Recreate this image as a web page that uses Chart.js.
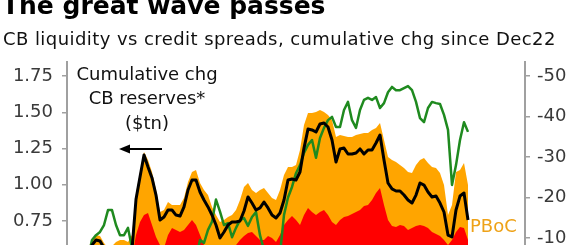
<!DOCTYPE html>
<html>
<head>
<meta charset="utf-8">
<script src="https://cdn.jsdelivr.net/npm/chart.js@4.4.1/dist/chart.umd.min.js"></script>
<style>
  html, body { margin: 0; padding: 0; background: #fff; overflow: hidden; }
  #wrap { position: relative; width: 576px; height: 245px; overflow: hidden; font-family: "DejaVu Sans", Verdana, sans-serif; }
  #wrap canvas { position: absolute; left: 0; top: 0; }
  .txt { position: absolute; white-space: nowrap; }
  #title { left: 2px; top: -7px; font-size: 25px; line-height: 25px; font-weight: bold; color: #000; }
  #subtitle { left: 3px; top: 30px; font-size: 18px; line-height: 18px; letter-spacing: 0.43px; color: #111; }
  #note { left: 47px; top: 61.5px; width: 200px; text-align: center; font-size: 18px; line-height: 24.5px; color: #111; }
  #pboc { left: 470px; top: 217px; font-size: 18px; line-height: 18px; color: #eea218; }
</style>
</head>
<body>
<div id="wrap">
  <canvas id="chart" width="576" height="245"></canvas>
  <div class="txt" id="title">The great wave passes</div>
  <div class="txt" id="subtitle">CB liquidity vs credit spreads, cumulative chg since Dec22</div>
  <div class="txt" id="note">Cumulative chg<br>CB reserves*<br>($tn)</div>
  <div class="txt" id="pboc">PBoC</div>
</div>
<script>
// cumulative chg in CB reserves ($tn), black line, left axis
const cbReserves = [
  0.45, 0.45, 0.45, 0.45, 0.47, 0.52, 0.584, 0.619, 0.612, 0.564,
  0.53, 0.50, 0.50, 0.50, 0.52, 0.54, 0.55, 0.90, 1.053, 1.205,
  1.122, 1.047, 0.929, 0.757, 0.778, 0.826, 0.826, 0.791, 0.784, 0.847,
  0.964, 1.033, 1.033, 0.95, 0.895, 0.847, 0.791, 0.722, 0.633, 0.674,
  0.722, 0.743, 0.743, 0.75, 0.819, 0.916, 0.874, 0.826, 0.84, 0.881,
  0.84, 0.791, 0.771, 0.805, 0.895, 1.033, 1.04, 1.033, 1.088, 1.253,
  1.384, 1.378, 1.364, 1.419, 1.426, 1.398, 1.309, 1.157, 1.247, 1.253,
  1.212, 1.212, 1.219, 1.247, 1.212, 1.24, 1.24, 1.288, 1.343, 1.171,
  1.012, 0.971, 0.957, 0.957, 0.929, 0.895, 0.874, 0.929, 1.012, 0.998,
  0.95, 0.916, 0.922, 0.874, 0.812, 0.653, 0.64, 0.826, 0.922, 0.943,
  0.757
];

// top of the stacked areas incl. PBoC (orange)
const stackTop = [
  0.47, 0.47, 0.48, 0.49, 0.52, 0.56, 0.619, 0.653, 0.647, 0.598,
  0.564, 0.577, 0.605, 0.619, 0.619, 0.605, 0.653, 0.94, 1.088, 1.226,
  1.171, 1.088, 0.964, 0.812, 0.826, 0.881, 0.86, 0.86, 0.86, 0.909,
  1.019, 1.088, 1.102, 1.012, 0.964, 0.929, 0.847, 0.791, 0.743, 0.757,
  0.778, 0.791, 0.826, 0.895, 0.984, 1.012, 0.964, 0.943, 0.964, 0.978,
  0.943, 0.909, 0.895, 0.964, 1.067, 1.122, 1.122, 1.136, 1.24, 1.412,
  1.495, 1.495, 1.502, 1.516, 1.502, 1.481, 1.447, 1.329, 1.343, 1.336,
  1.329, 1.329, 1.343, 1.35, 1.357, 1.357, 1.378, 1.391, 1.426, 1.309,
  1.191, 1.171, 1.157, 1.136, 1.116, 1.088, 1.081, 1.136, 1.171, 1.184,
  1.15, 1.122, 1.116, 1.081, 0.998, 0.791, 0.86, 1.088, 1.102, 1.15,
  0.998
];

// top of the red area (stack below PBoC)
const redTop = [
  0.4, 0.4, 0.4, 0.4, 0.4, 0.4, 0.4, 0.4, 0.4, 0.4,
  0.4, 0.4, 0.4, 0.4, 0.4, 0.4, 0.5, 0.653, 0.743, 0.791,
  0.805, 0.722, 0.64, 0.584, 0.564, 0.653, 0.702, 0.688, 0.674, 0.688,
  0.722, 0.757, 0.722, 0.653, 0.584, 0.55, 0.55, 0.564, 0.577, 0.564,
  0.577, 0.55, 0.584, 0.619, 0.647, 0.667, 0.674, 0.647, 0.619, 0.619,
  0.647, 0.633, 0.605, 0.653, 0.722, 0.757, 0.784, 0.757, 0.722, 0.791,
  0.84, 0.812, 0.791, 0.812, 0.826, 0.791, 0.743, 0.722, 0.757, 0.778,
  0.784, 0.798, 0.812, 0.826, 0.853, 0.86, 0.895, 0.943, 0.978, 0.86,
  0.757, 0.716, 0.709, 0.722, 0.716, 0.688, 0.702, 0.716, 0.722, 0.716,
  0.702, 0.674, 0.66, 0.647, 0.619, 0.584, 0.619, 0.674, 0.709, 0.702,
  0.619
];

// credit spreads cumulative chg (bp), green line, right axis inverted
const creditSpread = [
  -5, -5, -5, -5, -5, -5, -9.5, -10.7, -11.5, -13.2,
  -16.9, -16.9, -13.2, -10.7, -10.7, -12.5, -7.5, -5, -5, -5,
  -5, -5, -5, -5, -5, -5, -5, -5, -5, -5,
  -5, -5, -5, -9.5, -8.8, -12.0, -14.0, -19.5, -16.5, -13.2,
  -13.7, -10.2, -12.5, -14.4, -14.9, -13.0, -15.2, -16.4, -10.7, -7.0,
  -5, -5, -5, -6, -15.7, -20, -22.6, -26, -28, -31,
  -33.0, -34.2, -29.8, -34.7, -37.2, -39.1, -39.9, -37.4, -37.4, -41.6,
  -43.6, -39.1, -37.2, -41.6, -44.1, -44.6, -44.1, -44.8, -42.1, -43.3,
  -46.0, -47.3, -46.5, -46.5, -47.0, -47.5, -46.5, -43.6, -39.6, -38.6,
  -42.1, -43.6, -43.3, -43.1, -40.4, -36.7, -23.1, -28.0, -34.2, -38.6,
  -36.2
];

const leftTicks = [0.75, 1.0, 1.25, 1.5, 1.75];
const rightTicks = [-50, -40, -30, -20, -10];

const pts = arr => arr.map((v, i) => ({ x: i, y: v }));

const AXIS_GREY = "#a0a0a0";
const TICK_FONT = { family: "DejaVu Sans", size: 18 };

const arrowPlugin = {
  id: "arrow",
  afterDraw(chart) {
    const ctx = chart.ctx;
    ctx.save();
    ctx.strokeStyle = "#000";
    ctx.fillStyle = "#000";
    ctx.lineWidth = 1.8;
    ctx.beginPath();
    ctx.moveTo(162, 149);
    ctx.lineTo(127, 149);
    ctx.stroke();
    ctx.beginPath();
    ctx.moveTo(119, 149);
    ctx.lineTo(130, 144.5);
    ctx.lineTo(130, 153.5);
    ctx.closePath();
    ctx.fill();
    ctx.restore();
  }
};

new Chart(document.getElementById("chart"), {
  type: "line",
  data: {
    datasets: [
      {
        label: "CB reserves",
        data: pts(cbReserves),
        yAxisID: "y",
        borderColor: "#000",
        borderWidth: 3,
        fill: false,
        order: 0
      },
      {
        label: "Credit spreads",
        data: pts(creditSpread),
        yAxisID: "y2",
        borderColor: "#1f8a1f",
        borderWidth: 2.5,
        fill: false,
        order: 1
      },
      {
        label: "Other CBs",
        data: pts(redTop),
        yAxisID: "y",
        borderWidth: 0,
        backgroundColor: "#ff0000",
        fill: "start",
        order: 2
      },
      {
        label: "PBoC",
        data: pts(stackTop),
        yAxisID: "y",
        borderWidth: 0,
        backgroundColor: "#ffa500",
        fill: "start",
        order: 3
      }
    ]
  },
  options: {
    responsive: false,
    animation: false,
    layout: { padding: { top: 62, left: 0, right: 0, bottom: 0 } },
    elements: {
      line: { tension: 0, borderJoinStyle: "round" },
      point: { radius: 0 }
    },
    plugins: {
      legend: { display: false },
      tooltip: { enabled: false }
    },
    scales: {
      x: { type: "linear", display: false, min: -0.25, max: 114.25 },
      y: {
        position: "left",
        min: 0.5845,
        max: 1.8466,
        afterBuildTicks: s => { s.ticks = leftTicks.map(v => ({ value: v })); },
        afterFit: s => { s.width = 67; s.paddingTop = 0; s.paddingBottom = 0; },
        border: { display: true, color: AXIS_GREY, width: 2 },
        grid: { drawOnChartArea: false, tickLength: 5, color: AXIS_GREY, lineWidth: 1.5 },
        ticks: { padding: 9, color: "#3a3a3a", font: TICK_FONT, autoSkip: false, callback: v => v.toFixed(2) }
      },
      y2: {
        position: "right",
        reverse: true,
        min: -53.457,
        max: -8.272,
        afterBuildTicks: s => { s.ticks = rightTicks.map(v => ({ value: v })); },
        afterFit: s => { s.width = 51; s.paddingTop = 0; s.paddingBottom = 0; },
        border: { display: true, color: AXIS_GREY, width: 2 },
        grid: { drawOnChartArea: false, tickLength: 5, color: AXIS_GREY, lineWidth: 1.5 },
        ticks: { padding: 7, color: "#3a3a3a", font: TICK_FONT, autoSkip: false, callback: v => String(v) }
      }
    }
  },
  plugins: [arrowPlugin]
});
</script>
</body>
</html>
